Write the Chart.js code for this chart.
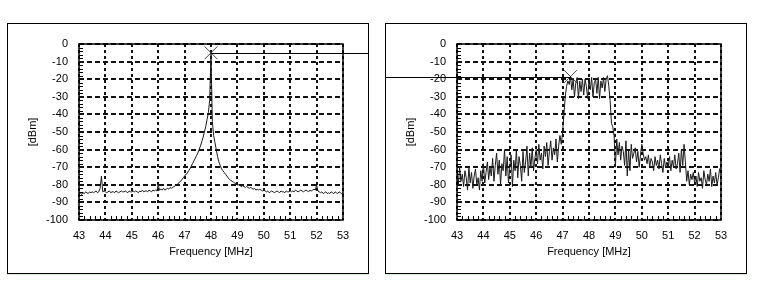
<!DOCTYPE html>
<html lang="en">
<head>
    <meta charset="UTF-8">
    <title>Spectrum</title>
    <style>
      body { margin: 0; background: #fff; }
      .box { position: absolute; top: 23px; width: 362px; height: 251px; box-sizing: border-box;
             border: 1px solid #000; box-shadow: 0 1px 0 #d6ecd6; }
      .box canvas { display: block; }
    </style>
</head>
<body>
    <div class="box" style="left:7px"><canvas id="leftChart" width="360" height="249"></canvas></div>
    <div class="box" style="left:385px"><canvas id="rightChart" width="360" height="249"></canvas></div>
</body>
</html>

<script src="https://cdn.jsdelivr.net/npm/chart.js"></script>

<script>
  // sweep 43..53 MHz, one sample every 50 kHz
  const startFreq = 43;
  const stepFreq = 0.05;
  const xTicks = [43, 44, 45, 46, 47, 48, 49, 50, 51, 52, 53];
  const yTicks = [0, -10, -20, -30, -40, -50, -60, -70, -80, -90, -100];

  // single carrier
  const leftTrace = [
    -85,-84.5,-85.5,-84.5,-85,-84,-84.5,-85,-84,-84.5,-84,-84.5,-84,-83.5,-84.5,-84,-82,-75,-84,-83.5,
    -84,-84.5,-84,-83.5,-84.5,-84,-84,-84.5,-83.5,-84,-84.5,-84,-83.5,-84,-84,-83.5,-84,-84.5,-83.5,-84,
    -84,-83.5,-84,-83.5,-84,-84.5,-83.5,-84,-83,-84,-83.5,-83.5,-84,-83,-83.5,-84,-83,-83.5,-83,-83.5,
    -80,-83,-82.5,-83,-82,-83,-82.5,-82,-82.5,-81.5,-82,-81.5,-81,-80.5,-80,-79.5,-78.5,-78,-77,-76,
    -75,-74,-73.5,-72,-71,-69.5,-68,-66.5,-65,-63.5,-62,-60,-58,-55.5,-53,-50,-47,-43,-39,-32,
    -5,
    -44,-52,-56,-60,-64,-67,-69,-71,-72,-73,-74,-75,-76,-77,-77.5,-78,-78.5,-79,-79.5,-80,
    -80,-80.5,-81,-80.5,-81,-81.5,-81,-81.5,-82,-81.5,-82,-82.5,-82,-83,-82.5,-83,-82.5,-83,-83.5,-83,
    -83.5,-84,-83.5,-84.5,-84,-83.5,-84,-84.5,-84,-83.5,-84,-84.5,-83.5,-84,-84,-84.5,-83.5,-84,-84,-83.5,
    -84,-83.5,-84,-83,-83.5,-84,-83.5,-83,-83.5,-84,-83.5,-83,-83.5,-84,-83,-83.5,-83,-82.5,-83,-80,
    -83.5,-84,-84.5,-84,-85,-84.5,-84,-85,-84.5,-85,-84,-84.5,-85,-84,-84.5,-85,-84,-84.5,-85,-84.5
  ];
  const leftMarker = [48, -5];

  // modulated channel
  const rightTrace = [
    -72,-80,-70,-78,-74,-81,-72,-76,-83,-70,-79,-73,-82,-75,-71,-80,-76,-83,-72,-78,
    -68,-79,-73,-67,-77,-70,-75,-65,-78,-69,-62,-74,-66,-80,-68,-72,-60,-75,-64,-79,
    -70,-63,-81,-66,-72,-60,-76,-64,-69,-78,-61,-73,-67,-58,-75,-62,-70,-59,-72,-65,
    -60,-68,-57,-66,-62,-71,-58,-64,-56,-69,-61,-55,-66,-59,-63,-54,-67,-58,-52,-57,
    -50,-40,-30,-24,-21,-23,-18.5,-26,-20,-30,-22,-19,-31,-21,-27,-20,-29,-20,-24,-31,
    -20,-26,-19,-30,-22,-20,-28,-19,-31,-21,-25,-19,-27,-20,-18,-24,-32,-45,-47,-52,
    -70,-54,-63,-56,-66,-58,-61,-69,-55,-75,-60,-72,-57,-65,-62,-59,-67,-61,-70,-63,
    -57,-62,-66,-64,-68,-63,-70,-65,-67,-72,-64,-69,-66,-71,-63,-68,-73,-65,-70,-67,
    -69,-64,-72,-66,-70,-63,-71,-68,-62,-73,-60,-69,-57,-67,-78,-72,-80,-74,-77,-73,
    -79,-75,-81,-73,-78,-76,-82,-72,-77,-80,-74,-78,-71,-81,-75,-79,-73,-80,-76,-71,-70
  ];
  const rightMarker = [47.3, -18.5];

  const FONT = { family: "'Liberation Sans', Arial, sans-serif", size: 11 };

  function toPoints(values) {
    return values.map((v, i) => ({ x: +(startFreq + i * stepFreq).toFixed(2), y: v }));
  }

  // frame, minor ticks and marker line
  const decorations = {
    id: 'decorations',
    afterDatasetsDraw(chart, args, opts) {
      const c = chart.ctx;
      const a = chart.chartArea;
      const xs = chart.scales.x, ys = chart.scales.y;
      c.save();
      c.strokeStyle = '#000';
      c.lineWidth = 1;
      c.beginPath();
      for (let v = -98; v < 0; v += 2) {
        if (v % 10 === 0) continue;
        const py = Math.round(ys.getPixelForValue(v)) + 0.5;
        c.moveTo(a.left, py); c.lineTo(a.left + 4, py);
      }
      for (let f = 43.2; f < 53; f += 0.2) {
        if (Math.abs(f - Math.round(f)) < 0.01) continue;
        const px = Math.round(xs.getPixelForValue(f)) + 0.5;
        c.moveTo(px, a.bottom); c.lineTo(px, a.bottom - 4);
      }
      c.stroke();
      c.lineWidth = 1.5;
      c.strokeRect(a.left, a.top, a.right - a.left, a.bottom - a.top);
      // marker reference line
      const mx = xs.getPixelForValue(opts.marker[0]);
      const my = Math.round(ys.getPixelForValue(opts.marker[1])) + 0.5;
      c.lineWidth = 1;
      c.beginPath();
      if (opts.side === 'right') { c.moveTo(mx, my); c.lineTo(chart.width, my); }
      else { c.moveTo(0, my); c.lineTo(mx, my); }
      c.stroke();
      c.restore();
    }
  };

  function buildChart(id, trace, marker, side) {
    new Chart(document.getElementById(id), {
      type: 'line',
      data: {
        datasets: [{
          data: toPoints(trace),
          borderColor: '#1a1a1a',
          borderWidth: 1,
          pointRadius: 0,
          tension: 0
        }, {
          type: 'scatter',
          data: [{ x: marker[0], y: marker[1] }],
          pointStyle: 'crossRot',
          pointRadius: 9,
          borderColor: '#444',
          borderWidth: 1
        }]
      },
      options: {
        responsive: false,
        animation: false,
        events: [],
        layout: { padding: { left: 0, right: 25, top: 20, bottom: 0 } },
        scales: {
          x: {
            type: 'linear',
            min: 43, max: 53,
            afterFit(scale) { scale.height = 53; },
            afterBuildTicks(scale) { scale.ticks = xTicks.map(v => ({ value: v })); },
            grid: { color: '#111', lineWidth: 2, drawTicks: false },
            border: { display: false, dash: [3, 3] },
            ticks: { color: '#000', font: FONT, padding: 9, maxRotation: 0 },
            title: { display: true, text: 'Frequency [MHz]', color: '#000', font: FONT, padding: { top: 0, bottom: 14 } }
          },
          y: {
            min: -100, max: 0,
            afterFit(scale) { scale.width = 71; },
            afterBuildTicks(scale) { scale.ticks = yTicks.map(v => ({ value: v })); },
            grid: { color: '#111', lineWidth: 2, drawTicks: false },
            border: { display: false, dash: [5, 3] },
            ticks: { color: '#000', font: FONT, padding: 11 },
            title: { display: true, text: '[dBm]', color: '#000', font: FONT, padding: { top: 18, bottom: 0 } }
          }
        },
        plugins: {
          legend: { display: false },
          tooltip: { enabled: false },
          decorations: { marker: marker, side: side }
        }
      },
      plugins: [decorations]
    });
  }

  buildChart('leftChart', leftTrace, leftMarker, 'right');
  buildChart('rightChart', rightTrace, rightMarker, 'left');
</script>
